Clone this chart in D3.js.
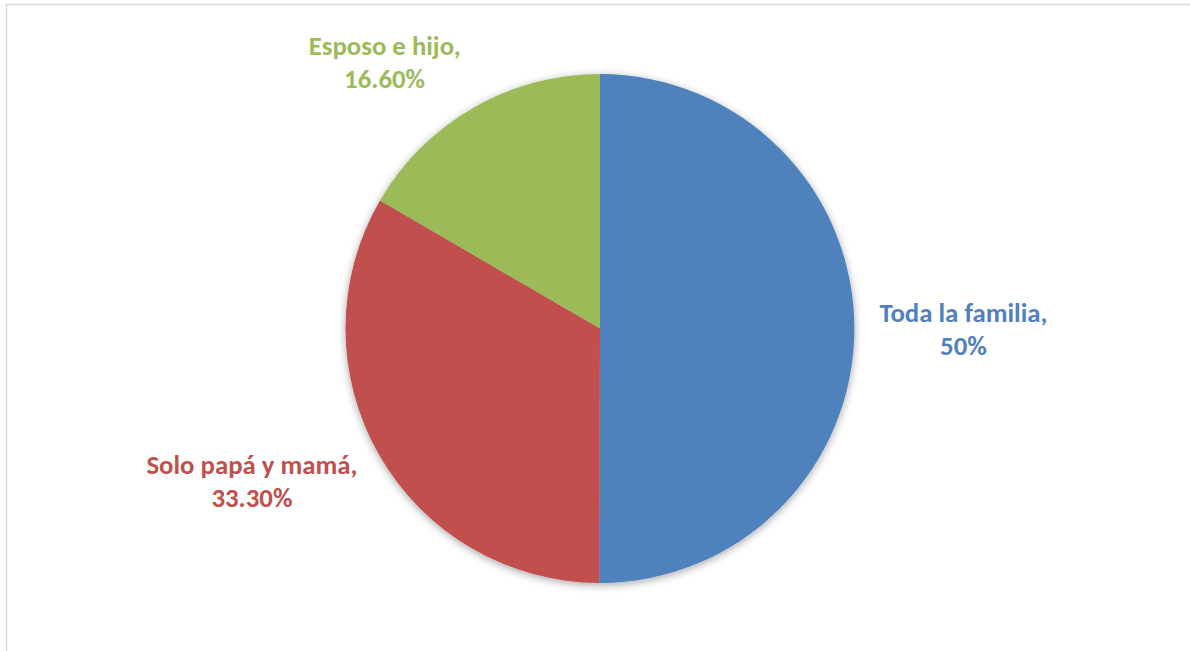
<!DOCTYPE html>
<html>
<head>
<meta charset="utf-8">
<script src="https://cdn.jsdelivr.net/npm/d3@7"></script>
<style>
  body { margin: 0; background: #fff; }
  svg { display: block; }
</style>
</head>
<body>
<script>
var width = 1190,
    height = 651;

var categories = ["Toda la familia", "Solo papá y mamá", "Esposo e hijo"];
var values = [50, 33.3, 16.6];
var valueLabels = ["50%", "33.30%", "16.60%"];
var colors = ["#4F81BD", "#C0504D", "#9BBB59"];

var cx = 600, cy = 328.5, radius = 254.5;

var svg = d3.select("body")
            .append("svg")
            .attr("width", width)
            .attr("height", height);

// soft shadow under the pie
var defs = svg.append("defs");
var f = defs.append("filter")
            .attr("id", "shadow")
            .attr("x", "-20%").attr("y", "-20%")
            .attr("width", "140%").attr("height", "140%");
f.append("feGaussianBlur").attr("in", "SourceAlpha").attr("stdDeviation", 4);
f.append("feOffset").attr("dx", 0).attr("dy", 2).attr("result", "blur");
f.append("feComponentTransfer").append("feFuncA").attr("type", "linear").attr("slope", 0.35);
var m = f.append("feMerge");
m.append("feMergeNode");
m.append("feMergeNode").attr("in", "SourceGraphic");

// chart border (only left and top are inside the picture)
svg.append("rect")
   .attr("x", 6.5)
   .attr("y", 4.5)
   .attr("width", 1300)
   .attr("height", 800)
   .attr("fill", "none")
   .attr("stroke", "#d9d9d9")
   .attr("stroke-width", 1.5);

var data = categories.map(function(c, i) {
  return {name: c, value: values[i], label: valueLabels[i], color: colors[i]};
});

var pie = d3.pie()
            .sort(null)
            .value(function(d) { return d.value; });

var arc = d3.arc()
            .innerRadius(0)
            .outerRadius(radius);

var g = svg.append("g")
           .attr("transform", "translate(" + cx + "," + cy + ")");

var arcs = pie(data);

g.append("g")
 .attr("filter", "url(#shadow)")
 .selectAll("path")
 .data(arcs)
 .enter()
 .append("path")
 .attr("d", arc)
 .attr("fill", function(d) { return d.data.color; });

var lineH = 33;
var labelR = radius + 25;

var labels = g.selectAll("text.lbl")
  .data(arcs)
  .enter()
  .append("text")
  .attr("class", "lbl")
  .attr("text-anchor", "middle")
  .style("font-family", "Carlito, Calibri, 'Open Sans', sans-serif")
  .style("font-weight", "bold")
  .style("font-size", "26.8px")
  .attr("fill", function(d) { return d.data.color; });

labels.append("tspan")
  .attr("x", 0).attr("dy", 0)
  .text(function(d) { return d.data.name + ","; });
labels.append("tspan")
  .attr("x", 0).attr("dy", lineH)
  .text(function(d) { return d.data.label; });

labels.attr("transform", function(d) {
  var a = (d.startAngle + d.endAngle) / 2;
  var px = Math.sin(a) * labelR,
      py = -Math.cos(a) * labelR;
  var bb = this.getBBox();
  var w = bb.width, h = bb.height;
  var ox = (Math.sin(a) >= 0 ? 1 : -1) * w / 2;
  var oy = -Math.cos(a) * h * 0.42;
  // centre of the box -> baseline of first line
  var tx = px + ox,
      ty = py + oy - (bb.y + h / 2);
  return "translate(" + tx + "," + ty + ")";
});
</script>
</body>
</html>
